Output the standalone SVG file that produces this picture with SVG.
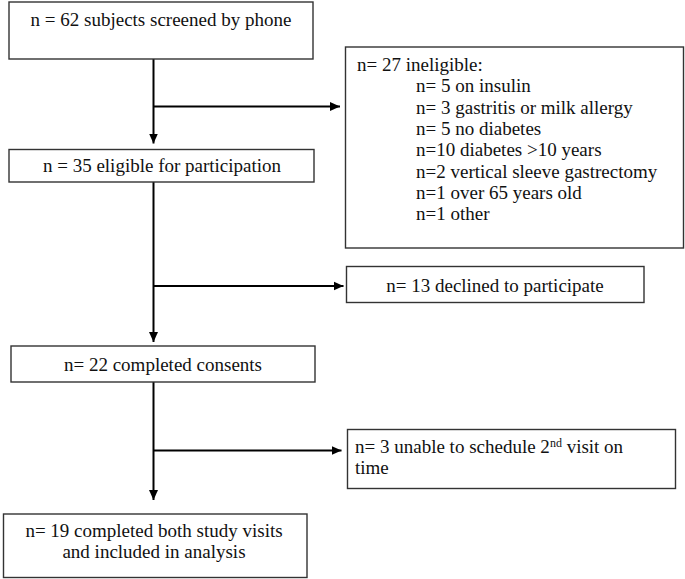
<svg xmlns="http://www.w3.org/2000/svg" width="685" height="579" viewBox="0 0 685 579">
<style>
.box{fill:#fff;stroke:#333;stroke-width:1.4}
.t{font-family:"Liberation Serif","Times New Roman",serif;font-size:19px;fill:#111}
.c{text-anchor:middle}
.ln{fill:none;stroke:#000;stroke-width:2}
</style>
<defs>
<marker id="ah" markerUnits="userSpaceOnUse" markerWidth="10" markerHeight="10" viewBox="0 0 10 10" refX="10" refY="5" orient="auto">
<path d="M0,0.5 L10,5 L0,9.5 Z" fill="#000"/>
</marker>
</defs>
<rect width="685" height="579" fill="#fff"/>
<g id="connectors">
<line class="ln" x1="153.5" y1="59" x2="153.5" y2="143.5" marker-end="url(#ah)"/>
<line class="ln" x1="153.5" y1="106.5" x2="340" y2="106.5" marker-end="url(#ah)"/>
<line class="ln" x1="153.5" y1="182" x2="153.5" y2="342" marker-end="url(#ah)"/>
<line class="ln" x1="153.5" y1="286" x2="343.5" y2="286" marker-end="url(#ah)"/>
<line class="ln" x1="153.5" y1="382" x2="153.5" y2="500" marker-end="url(#ah)"/>
<line class="ln" x1="153.5" y1="450.5" x2="341.5" y2="450.5" marker-end="url(#ah)"/>
</g>
<g id="screened">
<rect class="box" x="9" y="2" width="304" height="57"/>
<text class="t c" x="161" y="26">n = 62 subjects screened by phone</text>
</g>
<g id="ineligible">
<rect class="box" x="345.5" y="47" width="338" height="201"/>
<text class="t" x="357" y="71">n= 27 ineligible:</text>
<text class="t" x="416" y="92.3">n= 5 on insulin</text>
<text class="t" x="416" y="113.6">n= 3 gastritis or milk allergy</text>
<text class="t" x="416" y="134.9">n= 5 no diabetes</text>
<text class="t" x="416" y="156.2">n=10 diabetes &gt;10 years</text>
<text class="t" x="416" y="177.5">n=2 vertical sleeve gastrectomy</text>
<text class="t" x="416" y="198.8">n=1 over 65 years old</text>
<text class="t" x="416" y="220.1">n=1 other</text>
</g>
<g id="eligible">
<rect class="box" x="9" y="149.5" width="305" height="32.5"/>
<text class="t c" x="162" y="172">n = 35 eligible for participation</text>
</g>
<g id="declined">
<rect class="box" x="346.5" y="266.5" width="297.5" height="36"/>
<text class="t c" x="495" y="291.5">n= 13 declined to participate</text>
</g>
<g id="consents">
<rect class="box" x="11" y="346" width="304" height="36"/>
<text class="t c" x="163" y="370.5">n= 22 completed consents</text>
</g>
<g id="unable">
<rect class="box" x="347.5" y="429.5" width="328" height="59"/>
<text class="t" x="355" y="453">n= 3 unable to schedule 2<tspan font-size="12" dy="-6">nd</tspan><tspan dy="6"> visit on</tspan></text>
<text class="t" x="355" y="474">time</text>
</g>
<g id="completed">
<rect class="box" x="3.5" y="514" width="303.5" height="63.5"/>
<text class="t c" x="154" y="537">n= 19 completed both study visits</text>
<text class="t c" x="154" y="558">and included in analysis</text>
</g>
</svg>
